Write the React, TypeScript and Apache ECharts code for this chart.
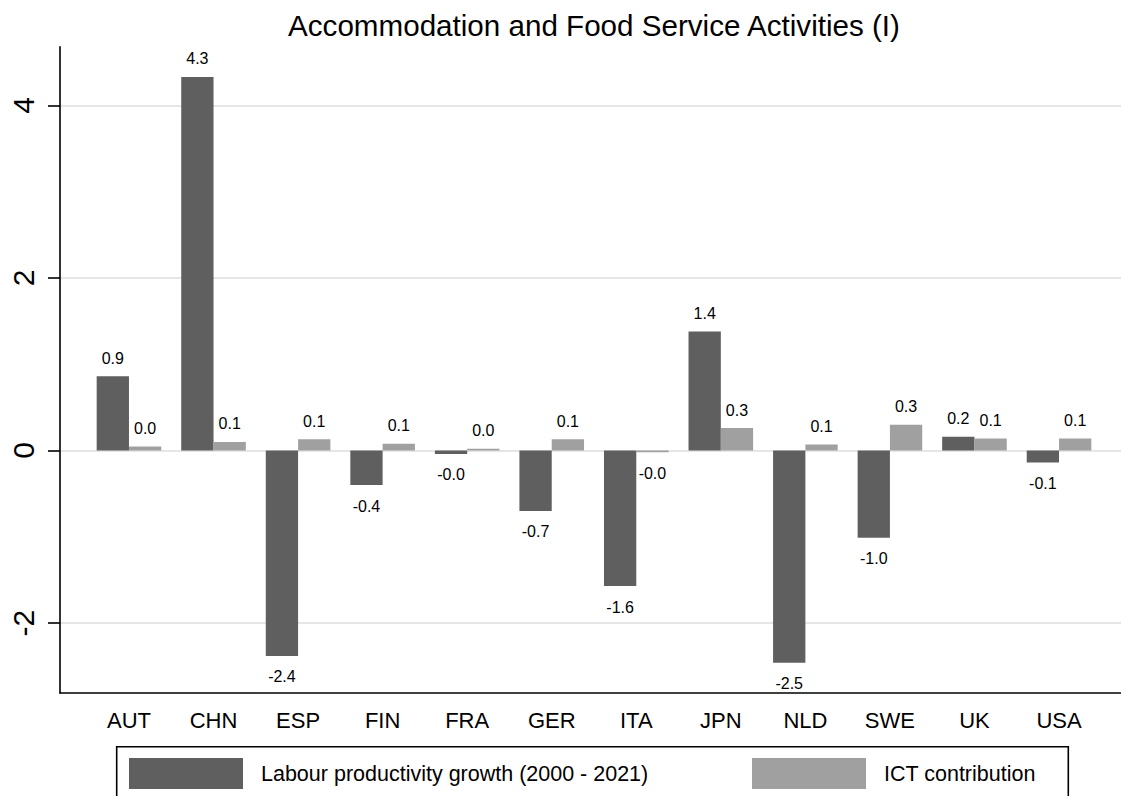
import React, { useEffect, useRef } from "react";
import * as echarts from "echarts";

const chartTitle = "Accommodation and Food Service Activities (I)";
const categories = ["AUT", "CHN", "ESP", "FIN", "FRA", "GER", "ITA", "JPN", "NLD", "SWE", "UK", "USA"];
const labourGrowth = [0.86, 4.33, -2.38, -0.4, -0.04, -0.7, -1.57, 1.38, -2.46, -1.01, 0.16, -0.14];
const ictContribution = [0.048, 0.1, 0.13, 0.08, 0.02, 0.13, -0.02, 0.26, 0.07, 0.3, 0.14, 0.14];
const seriesNames = ["Labour productivity growth (2000 - 2021)", "ICT contribution"];
const yTicks = [-2, 0, 2, 4];
const yMin = -2.81;
const yMax = 4.68;

const FONT = "'Liberation Sans', Arial, Helvetica, sans-serif";
const DARK = "#5f5f5f";
const LIGHT = "#a0a0a0";

function barData(values: number[]) {
  return values.map((v) => ({
    value: v,
    label: { position: v < 0 ? "bottom" : "top", distance: v < 0 ? 13 : 10 },
  }));
}

export default function App() {
  const ref = useRef<HTMLDivElement>(null);
  useEffect(() => {
    if (!ref.current) return;
    const chart = echarts.init(ref.current, null, { renderer: "svg" });
    const axisLineStyle = { color: "#000", width: 1.6 };
    const barLabel = {
      show: true,
      fontSize: 16,
      color: "#000",
      fontFamily: FONT,
      formatter: (p: any) => Number(p.value).toFixed(1),
    };
    const legendCommon = {
      top: 758,
      itemWidth: 114,
      itemHeight: 31,
      icon: "rect",
      padding: 0,
      selectedMode: false,
      textStyle: { fontSize: 21.5, color: "#000", fontFamily: FONT, padding: [0, 0, 0, 13] },
    };
    chart.setOption({
      animation: false,
      backgroundColor: "#fff",
      title: {
        text: chartTitle,
        left: 594,
        top: 10,
        padding: 0,
        textAlign: "center",
        textStyle: { fontSize: 29.6, fontWeight: "normal", color: "#000", fontFamily: FONT },
      },
      legend: [
        { ...legendCommon, data: [seriesNames[0]], left: 129 },
        { ...legendCommon, data: [seriesNames[1]], left: 752 },
      ],
      grid: [
        { left: 60, right: 0, top: 46.7, bottom: 103 },
        { left: 86.7, right: 19.7, top: 46.7, bottom: 103 },
      ],
      xAxis: [
        {
          type: "value",
          gridIndex: 0,
          min: 0,
          max: 1,
          axisLine: { show: true, onZero: false, lineStyle: axisLineStyle },
          axisTick: { show: false },
          axisLabel: { show: false },
          splitLine: { show: false },
        },
        {
          type: "category",
          gridIndex: 1,
          data: categories,
          axisLine: { show: false },
          axisTick: { show: false },
          axisLabel: { color: "#000", fontSize: 22, fontFamily: FONT, margin: 16 },
          splitLine: { show: false },
        },
      ],
      yAxis: [
        {
          type: "value",
          gridIndex: 0,
          min: yMin,
          max: yMax,
          minInterval: 2,
          maxInterval: 2,
          axisLine: { show: true, onZero: false, lineStyle: axisLineStyle },
          axisTick: { show: true, length: 12, customValues: yTicks, lineStyle: axisLineStyle },
          axisLabel: {
            customValues: yTicks,
            rotate: 90,
            fontSize: 30,
            color: "#000",
            fontFamily: FONT,
            margin: 22,
          },
          splitLine: {
            show: true,
            lineStyle: { color: "#e6e6e6", width: 2 },
          },
        },
        { type: "value", gridIndex: 1, min: yMin, max: yMax, show: false, splitLine: { show: false } },
      ],
      graphic: [
        {
          type: "rect",
          shape: { x: 116.7, y: 746.7, width: 951.6, height: 80 },
          style: { fill: "none", stroke: "#000", lineWidth: 1.6 },
          silent: true,
          z: 10,
        },
      ],
      series: [
        {
          type: "bar",
          name: seriesNames[0],
          xAxisIndex: 1,
          yAxisIndex: 1,
          data: barData(labourGrowth),
          barWidth: 32.3,
          barGap: "0%",
          itemStyle: { color: DARK },
          label: barLabel,
        },
        {
          type: "bar",
          name: seriesNames[1],
          xAxisIndex: 1,
          yAxisIndex: 1,
          data: barData(ictContribution),
          barWidth: 32.3,
          barGap: "0%",
          itemStyle: { color: LIGHT },
          label: barLabel,
        },
      ],
    });
    return () => chart.dispose();
  }, []);
  return (
    <div
      ref={ref}
      style={{ position: "absolute", left: 0, top: 0, width: 1121, height: 796, background: "#fff" }}
    />
  );
}
